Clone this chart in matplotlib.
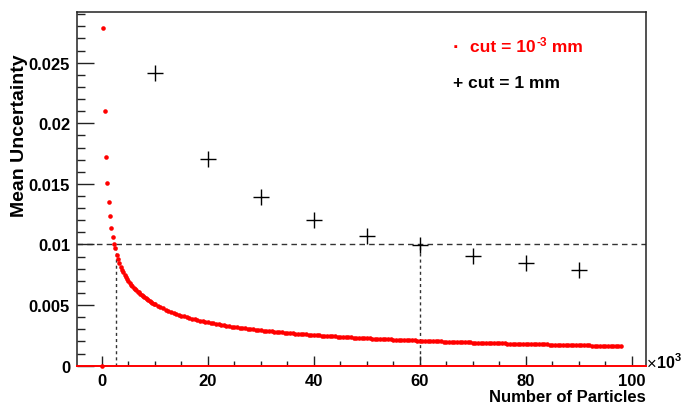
import numpy as np
import matplotlib
matplotlib.use("Agg")
import matplotlib.pyplot as plt
from matplotlib.ticker import FixedLocator, MultipleLocator

plt.rcParams['font.family'] = ['Liberation Sans', 'DejaVu Sans']
plt.rcParams['font.weight'] = 'bold'

# ---- data (x in units of 10^3 particles) ----
# cut = 10^-3 mm : fine-grained points, first block every 0.25, then every 0.5
red_y_fine = [0.0279, 0.0210, 0.0172, 0.0151, 0.01347, 0.01237, 0.01138, 0.01061,
              0.01006, 0.0097, 0.00915, 0.00878, 0.00846, 0.00818, 0.00793, 0.00770,
              0.00749, 0.00731, 0.00714, 0.00698, 0.00683, 0.00669, 0.00657, 0.00645,
              0.00632, 0.00624, 0.00612, 0.00605, 0.00594, 0.00584, 0.00575, 0.00566,
              0.00557, 0.00549, 0.00541, 0.00533, 0.00526, 0.00519, 0.00512, 0.00506]
red_y_coarse = [0.00494, 0.00482, 0.00472, 0.00462, 0.00453, 0.00444, 0.00435, 0.00428,
                0.00420, 0.00413, 0.00406, 0.00400, 0.00394, 0.00388, 0.00382, 0.00377,
                0.00372, 0.00367, 0.00362, 0.00358, 0.00353, 0.00349, 0.00345, 0.00341,
                0.00337, 0.00334, 0.00330, 0.00327, 0.00323, 0.00320, 0.00317, 0.00314,
                0.00311, 0.00308, 0.00305, 0.00302, 0.00300, 0.00297, 0.00295, 0.00292,
                0.00290, 0.00287, 0.00285, 0.00283, 0.00281, 0.00279, 0.00276, 0.00274,
                0.00272, 0.00270, 0.00269, 0.00267, 0.00265, 0.00263, 0.00261, 0.00260,
                0.00258, 0.00256, 0.00255, 0.00253, 0.00251, 0.00250, 0.00248, 0.00247,
                0.00245, 0.00244, 0.00243, 0.00241, 0.00240, 0.00239, 0.00237, 0.00236,
                0.00235, 0.00233, 0.00232, 0.00231, 0.00230, 0.00229, 0.00227, 0.00226,
                0.00225, 0.00224, 0.00223, 0.00222, 0.00221, 0.00220, 0.00219, 0.00218,
                0.00217, 0.00216, 0.00215, 0.00214, 0.00213, 0.00212, 0.00211, 0.00210,
                0.00209, 0.00208, 0.00207, 0.00207, 0.00206, 0.00205, 0.00204, 0.00203,
                0.00202, 0.00202, 0.00201, 0.00200, 0.00199, 0.00198, 0.00198, 0.00197,
                0.00196, 0.00195, 0.00195, 0.00194, 0.00193, 0.00193, 0.00192, 0.00191,
                0.00191, 0.00190, 0.00189, 0.00189, 0.00188, 0.00187, 0.00187, 0.00186,
                0.00185, 0.00185, 0.00184, 0.00184, 0.00183, 0.00182, 0.00182, 0.00181,
                0.00181, 0.00180, 0.00179, 0.00179, 0.00178, 0.00178, 0.00177, 0.00177,
                0.00176, 0.00176, 0.00175, 0.00175, 0.00174, 0.00174, 0.00173, 0.00173,
                0.00172, 0.00172, 0.00171, 0.00171, 0.00170, 0.00170, 0.00169, 0.00169,
                0.00168, 0.00168, 0.00167, 0.00167, 0.00166, 0.00166, 0.00165, 0.00165,
                0.00165, 0.00164, 0.00164, 0.00163, 0.00163, 0.00162, 0.00162, 0.00162]
red_step_fine = 0.25
red_step_coarse = 0.5

# cut = 1 mm
black_x = [10, 20, 30, 40, 50, 60, 70, 80, 90]
black_y = [0.02415, 0.01703, 0.01392, 0.01204, 0.01074, 0.00993, 0.00909, 0.00846, 0.00793]

threshold = 0.01
cross_x = [2.58, 60]

x_ticks = [0, 20, 40, 60, 80, 100]
y_ticks = [0, 0.005, 0.01, 0.015, 0.02, 0.025]
y_tick_labels = ['0', '0.005', '0.01', '0.015', '0.02', '0.025']

# ---- build x grid for red points ----
x_fine = red_step_fine * np.arange(1, len(red_y_fine) + 1)
x_coarse = x_fine[-1] + red_step_coarse * np.arange(1, len(red_y_coarse) + 1)
red_x = np.concatenate([x_fine, x_coarse])
red_y = np.array(red_y_fine + red_y_coarse)

W, H = 685, 406
fig = plt.figure(figsize=(W / 100, H / 100), dpi=100)
ax = fig.add_axes([77/W, 1 - 366.7/H, (645.7 - 77)/W, (366.7 - 13)/H])

ax.set_xlim(-4.72, 102.64)
ax.set_ylim(0, 0.02918)

# dashed guide lines
ax.axhline(threshold, color='#333333', ls=(0, (4, 3)), lw=1.0, zorder=1)
for cx in cross_x:
    ax.plot([cx, cx], [0, threshold], color='#333333', ls=(0, (2.2, 2.2)), lw=1.0, zorder=1)

ax.plot(red_x, red_y, ls='none', marker='o', ms=3.3, mec='none', color='#ff0000', zorder=3)
ax.plot([0], [0], ls='none', marker='o', ms=3.3, mec='none', color='#ff0000', zorder=4, clip_on=False)
ax.plot(black_x, black_y, ls='none', marker='+', ms=12, mew=1.0, color='black', zorder=3)

# spines / ticks
for s in ax.spines.values():
    s.set_linewidth(1.1)
    s.set_color('#222222')
ax.spines['bottom'].set_color('#ff0000')
ax.spines['bottom'].set_linewidth(1.4)

ax.xaxis.set_major_locator(FixedLocator(x_ticks))
ax.xaxis.set_minor_locator(MultipleLocator(5))
ax.yaxis.set_major_locator(FixedLocator(y_ticks))
ax.yaxis.set_minor_locator(MultipleLocator(0.001))
ax.set_yticklabels(y_tick_labels)
ax.set_xticklabels([str(v) for v in x_ticks])

ax.tick_params(axis='x', which='major', direction='in', length=7, width=1.0, color='#222222',
               labelsize=12, pad=5)
ax.tick_params(axis='x', which='minor', direction='in', length=3.5, width=1.0, color='#222222')
ax.tick_params(axis='y', which='major', direction='in', length=12, width=1.0, color='#222222',
               labelsize=12, pad=5)
ax.tick_params(axis='y', which='minor', direction='in', length=6, width=1.0, color='#222222')
for lab in ax.get_xticklabels() + ax.get_yticklabels():
    lab.set_fontweight('bold')

fig.text(20/W, 1 - 136/H, 'Mean Uncertainty', rotation=90, ha='center', va='center',
         fontsize=14, fontweight='bold')
fig.text(646/W, 1 - 398/H, 'Number of Particles', ha='right', va='center',
         fontsize=12, fontweight='bold')

# x10^3 exponent label
tx = fig.text(647/W, 1 - 364/H, '×', ha='left', va='center', fontsize=12, fontweight='normal')
fig.canvas.draw()
bbx = tx.get_window_extent()
t10 = fig.text(bbx.x1/W, 1 - 364/H, '10', ha='left', va='center', fontsize=11.5, fontweight='bold')
fig.canvas.draw()
bb10 = t10.get_window_extent()
fig.text(bb10.x1/W + 0.5/W, 1 - 358/H, '3', ha='left', va='center', fontsize=8, fontweight='bold')

# legend texts
fig.text(455/W, 1 - 48/H, '.', color='#ff0000', ha='center', va='baseline',
         fontsize=14, fontweight='bold')
fs = 12.5
t1 = fig.text(470/W, 1 - 48/H, 'cut = 10', color='#ff0000', ha='left', va='center',
              fontsize=fs, fontweight='bold')
fig.canvas.draw()
bb1 = t1.get_window_extent()
t2 = fig.text(bb1.x1/W + 0.5/W, 1 - 43/H, '-3', color='#ff0000', ha='left', va='center',
              fontsize=8.5, fontweight='bold')
fig.canvas.draw()
bb2 = t2.get_window_extent()
fig.text(bb2.x1/W, 1 - 48/H, ' mm', color='#ff0000', ha='left', va='center',
         fontsize=fs, fontweight='bold')
fig.text(453/W, 1 - 83/H, '+ cut = 1 mm', color='black', ha='left', va='center',
         fontsize=fs, fontweight='bold')

fig.savefig('out.png', dpi=100)
